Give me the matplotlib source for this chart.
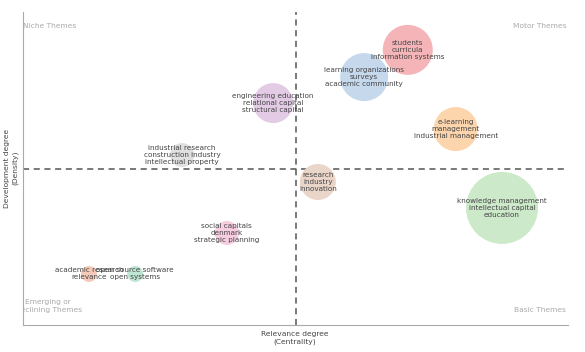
import matplotlib
matplotlib.use("Agg")
import matplotlib.pyplot as plt

labels = [
    "students\ncurricula\ninformation systems",
    "learning organizations\nsurveys\nacademic community",
    "engineering education\nrelational capital\nstructural capital",
    "e-learning\nmanagement\nindustrial management",
    "industrial research\nconstruction industry\nintellectual property",
    "research\nindustry\ninnovation",
    "knowledge management\nintellectual capital\neducation",
    "social capitals\ndenmark\nstrategic planning",
    "academic research\nrelevance",
    "open source software\nopen systems",
]
centrality = [0.706, 0.626, 0.459, 0.794, 0.292, 0.541, 0.879, 0.374, 0.121, 0.206]
density = [0.879, 0.792, 0.709, 0.626, 0.543, 0.457, 0.374, 0.294, 0.163, 0.163]
cluster_size = [25, 24, 20, 22, 12, 18, 36, 12, 8, 8]
colors = ["#f5b5b8", "#c5d8ec", "#e3cbe6", "#fdd5ad", "#e0e0e0",
          "#ead5c9", "#cce9c9", "#f7cde0", "#f7c9b8", "#bfe5d4"]

plt.rcParams['font.family'] = ['DejaVu Sans']
fig = plt.figure(figsize=(5.85, 3.52), dpi=100)
ax = fig.add_axes([23/585, 27/352, 545/585, 313/352])
ax.set_xlim(0, 1)
ax.set_ylim(0, 1)

sizes = [(2 * r * 0.72) ** 2 for r in cluster_size]
ax.scatter(centrality, density, s=sizes, c=colors, edgecolors='none', zorder=2)
for x, y, t in zip(centrality, density, labels):
    ax.text(x, y, t, ha='center', va='center', fontsize=5.2, color='#444444',
            linespacing=1.2, zorder=3)

ax.axvline(0.5, color='#555555', lw=1.1, ls=(0, (4, 3)), zorder=1)
ax.axhline(0.5, color='#555555', lw=1.1, ls=(0, (4, 3)), zorder=1)

for s in ['top', 'right']:
    ax.spines[s].set_visible(False)
for s in ['left', 'bottom']:
    ax.spines[s].set_color('#aaaaaa')
    ax.spines[s].set_linewidth(0.8)
ax.set_xticks([])
ax.set_yticks([])

qc = '#aaaaaa'
ax.text(0.0, 0.955, "Niche Themes", ha='left', va='center', fontsize=5.4, color=qc)
ax.text(0.997, 0.955, "Motor Themes", ha='right', va='center', fontsize=5.4, color=qc)
ax.text(0.997, 0.048, "Basic Themes", ha='right', va='center', fontsize=5.4, color=qc)
ax.text(0.046, 0.062, "Emerging or\nDeclining Themes", ha='center', va='center',
        fontsize=5.4, color=qc, linespacing=1.4, clip_on=True)

fig.text(295/585, 1 - 338/352, "Relevance degree\n(Centrality)", ha='center', va='center',
         fontsize=5.4, color='#444444', linespacing=1.3)
fig.text(11/585, 1 - 168/352, "Development degree\n(Density)", ha='center', va='center',
         fontsize=5.4, color='#444444', rotation=90, linespacing=1.3)

fig.savefig("out.png", dpi=100)
